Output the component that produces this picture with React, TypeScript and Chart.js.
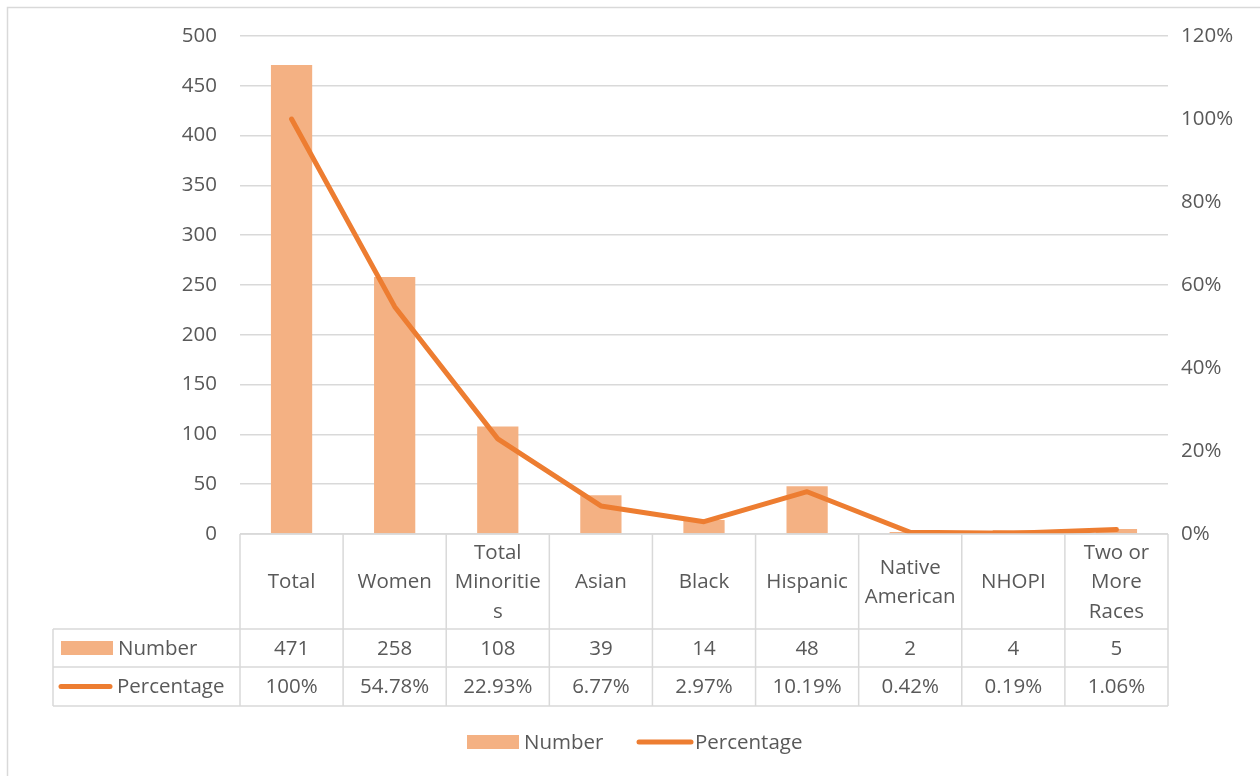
import React, { useEffect, useRef } from "react";
import { Chart, registerables } from "chart.js";

Chart.register(...registerables);

const categories = ["Total", "Women", "Total Minorities", "Asian", "Black", "Hispanic", "Native American", "NHOPI", "Two or More Races"];
const categoryLines = [["Total"], ["Women"], ["Total", "Minoritie", "s"], ["Asian"], ["Black"], ["Hispanic"], ["Native", "American"], ["NHOPI"], ["Two or", "More", "Races"]];
const numberValues = [471, 258, 108, 39, 14, 48, 2, 4, 5];
const percentageValues = [100, 54.78, 22.93, 6.77, 2.97, 10.19, 0.42, 0.19, 1.06];
const percentageLabels = ["100%", "54.78%", "22.93%", "6.77%", "2.97%", "10.19%", "0.42%", "0.19%", "1.06%"];
const seriesNames = ["Number", "Percentage"];
const numberAxisMax = 500;
const numberAxisStep = 50;
const percentAxisMax = 120;
const percentAxisStep = 20;

const FONT = "'Open Sans', 'Noto Sans', sans-serif";
const TEXT = "#595959";
const GRID = "#d9d9d9";
const BAR = "#F4B183";
const LINE = "#ED7D31";
const FS = 20.5;

const tablePlugin = {
  id: "dataTable",
  afterDraw(chart: any) {
    const ctx = chart.ctx as CanvasRenderingContext2D;
    const area = chart.chartArea;
    const x = chart.scales.x;
    const n = categories.length;
    const colW = (area.right - area.left) / n;
    const top = area.bottom;
    const hdrBottom = top + 95;
    const r1Bottom = hdrBottom + 38;
    const r2Bottom = r1Bottom + 39;
    const leftCol = 53;

    ctx.save();
    // outer frame
    ctx.strokeStyle = GRID;
    ctx.lineWidth = 1.5;
    ctx.strokeRect(7.5, 7.5, 1262, 780);

    // table lines
    ctx.lineWidth = 1.5;
    ctx.strokeStyle = GRID;
    ctx.beginPath();
    ctx.moveTo(area.left, top);
    ctx.lineTo(area.right, top);
    [hdrBottom, r1Bottom, r2Bottom].forEach((yy) => {
      ctx.moveTo(leftCol, yy);
      ctx.lineTo(area.right, yy);
    });
    for (let i = 0; i <= n; i++) {
      const xx = area.left + i * colW;
      ctx.moveTo(xx, top);
      ctx.lineTo(xx, r2Bottom);
    }
    ctx.moveTo(leftCol, hdrBottom);
    ctx.lineTo(leftCol, r2Bottom);
    ctx.stroke();

    ctx.fillStyle = TEXT;
    ctx.font = `${FS}px ${FONT}`;
    ctx.textAlign = "center";
    ctx.textBaseline = "middle";
    const lh = 29.5;
    const dy = 1;
    const hdrMid = (top + hdrBottom) / 2 + dy;
    for (let i = 0; i < n; i++) {
      const cx = x.getPixelForValue(i);
      const lines = categoryLines[i];
      lines.forEach((t, k) => {
        ctx.fillText(t, cx, hdrMid + (k - (lines.length - 1) / 2) * lh);
      });
      ctx.fillText(String(numberValues[i]), cx, (hdrBottom + r1Bottom) / 2 + dy);
      ctx.fillText(percentageLabels[i], cx, (r1Bottom + r2Bottom) / 2 + dy);
    }

    // row keys
    const y1 = (hdrBottom + r1Bottom) / 2;
    const y2 = (r1Bottom + r2Bottom) / 2;
    ctx.fillStyle = BAR;
    ctx.fillRect(61, y1 - 7, 52, 14);
    ctx.strokeStyle = LINE;
    ctx.lineWidth = 5;
    ctx.lineCap = "round";
    ctx.beginPath();
    ctx.moveTo(61, y2);
    ctx.lineTo(110, y2);
    ctx.stroke();
    ctx.fillStyle = TEXT;
    ctx.textAlign = "left";
    ctx.fillText(seriesNames[0], 118, y1 + dy);
    ctx.fillText(seriesNames[1], 117, y2 + dy);

    // legend
    const ly = 742;
    ctx.fillStyle = BAR;
    ctx.fillRect(467, ly - 7, 52, 14);
    ctx.strokeStyle = LINE;
    ctx.lineWidth = 5;
    ctx.beginPath();
    ctx.moveTo(639, ly);
    ctx.lineTo(691, ly);
    ctx.stroke();
    ctx.fillStyle = TEXT;
    ctx.fillText(seriesNames[0], 524, ly + dy);
    ctx.fillText(seriesNames[1], 695, ly + dy);
    ctx.restore();
  },
};

export default function App() {
  const ref = useRef<HTMLCanvasElement | null>(null);
  useEffect(() => {
    if (!ref.current) return;
    const chart = new Chart(ref.current, {
      type: "bar",
      data: {
        labels: categories,
        datasets: [
          {
            type: "line",
            label: seriesNames[1],
            data: percentageValues,
            yAxisID: "y1",
            borderColor: LINE,
            backgroundColor: LINE,
            borderWidth: 5,
            pointRadius: 0,
            tension: 0,
            borderCapStyle: "round",
            borderJoinStyle: "round",
            order: 1,
          } as any,
          {
            type: "bar",
            label: seriesNames[0],
            data: numberValues,
            yAxisID: "y",
            backgroundColor: BAR,
            barPercentage: 0.4,
            categoryPercentage: 1,
            order: 2,
          } as any,
        ],
      },
      options: {
        responsive: false,
        animation: false,
        devicePixelRatio: 1,
        layout: { padding: { top: 36, bottom: 242, left: 0, right: 0 } },
        plugins: { legend: { display: false }, tooltip: { enabled: false } },
        scales: {
          x: { display: false, offset: true },
          y: {
            position: "left",
            min: 0,
            max: numberAxisMax,
            ticks: { stepSize: numberAxisStep, color: TEXT, font: { size: FS, family: FONT }, padding: 23 },
            grid: { color: GRID, lineWidth: 1.5, drawTicks: false },
            border: { display: false },
            afterFit: (s: any) => { s.width = 240; },
          },
          y1: {
            position: "right",
            min: 0,
            max: percentAxisMax,
            ticks: { stepSize: percentAxisStep, color: TEXT, font: { size: FS, family: FONT }, padding: 13, callback: (v: any) => v + "%" },
            grid: { display: false, drawTicks: false },
            border: { display: false },
            afterFit: (s: any) => { s.width = 92; },
          },
        },
      },
      plugins: [tablePlugin],
    });
    return () => chart.destroy();
  }, []);
  return (
    <div style={{ position: "absolute", left: 0, top: 0, width: 1260, height: 776, background: "#fff" }}>
      <canvas ref={ref} width={1260} height={776} style={{ display: "block" }} />
    </div>
  );
}
